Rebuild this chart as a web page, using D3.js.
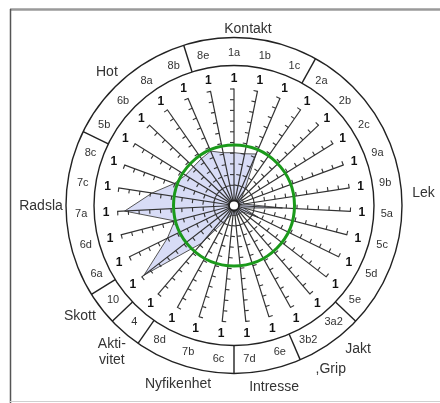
<!DOCTYPE html>
<html>
<head>
<meta charset="utf-8">
<script src="https://cdn.jsdelivr.net/npm/d3@7"></script>
<style>
  html, body { margin: 0; padding: 0; background: #fff; }
  svg { display: block; font-family: "Liberation Sans", Arial, sans-serif; will-change: transform; }
  text { -webkit-font-smoothing: antialiased; }
</style>
</head>
<body>
<svg id="chart" width="440" height="403"></svg>
<script>
// ---- data ----
const categories = ["1a","1b","1c","2a","2b","2c","9a","9b","5a","5c","5d","5e",
  "3a2","3b2","6e","7d","6c","7b","8d","4","10","6a","6d","7a","7c","8c","5b","6b","8a","8b","8e"];
const values = [0.40,0.40,0.43,0.08,0,0,0,0,0.36,0,0.16,0,
  0,0,0,0,0,0,0.05,0.37,0.97,0.60,0.48,0.93,0.68,0.50,0.44,0.43,0.44,0.46,0.41];
const scaleEndLabel = "1";
const tickValues = [0.1,0.2,0.3,0.4,0.5,0.6,0.7,0.8,0.9,1.0];
const groupStarts = ["2a","3a2","6e","6c","4","10","6a","5b","8e"];
const groupNames = ["Kontakt","Lek","Jakt",",Grip","Intresse","Nyfikenhet","Akti-|vitet","Skott","Radsla","Hot"];

// ---- layout ----
const W = 440, H = 403, cx = 234, cy = 205.5;
const groupLabelPos = [[4.5,178],[86,190],[139,189],[149.2,189],[167.5,185],[197.5,186],[220,190],[234.6,189],[270,193],[316.6,185]];

const svg = d3.select("#chart");
const n = categories.length;
const angle = d3.scaleLinear().domain([0, n]).range([0, 2 * Math.PI]);
const r = d3.scaleLinear().domain([0, 1]).range([10, 117]);
const pt = (a, rad) => [cx + rad * Math.sin(a), cy - rad * Math.cos(a)];

svg.append("rect").attr("width", W).attr("height", H).attr("fill", "#fff");

// frame
svg.append("line").attr("x1", 10).attr("x2", W).attr("y1", 9.5).attr("y2", 9.5)
  .attr("stroke", "#9a9a9a").attr("stroke-width", 2.5);
svg.append("line").attr("x1", 10.5).attr("x2", 10.5).attr("y1", 9).attr("y2", H)
  .attr("stroke", "#555").attr("stroke-width", 1.5);
svg.append("line").attr("x1", 10).attr("x2", W).attr("y1", 401.5).attr("y2", 401.5)
  .attr("stroke", "#d0d0d0").attr("stroke-width", 1);

// outer ring
const ringIn = 140, ringOut = 168;
[ringIn, ringOut].forEach(rr => svg.append("circle").attr("cx", cx).attr("cy", cy).attr("r", rr)
  .attr("fill", "none").attr("stroke", "#222").attr("stroke-width", 1.4));
groupStarts.forEach(c => {
  const a = angle(categories.indexOf(c) - 0.5);
  const p1 = pt(a, ringIn), p2 = pt(a, ringOut);
  svg.append("line").attr("x1", p1[0]).attr("y1", p1[1]).attr("x2", p2[0]).attr("y2", p2[1])
    .attr("stroke", "#222").attr("stroke-width", 1.4);
});
const labels = svg.append("g").attr("opacity", 0.999);
categories.forEach((c, i) => {
  const p = pt(angle(i), 153);
  labels.append("text").attr("x", p[0]).attr("y", p[1]).attr("dy", "0.35em")
    .attr("text-anchor", "middle").attr("font-size", 11).attr("fill", "#333").text(c);
});

// group labels
groupNames.forEach((g, i) => {
  const [deg, rad] = groupLabelPos[i];
  const p = pt(deg * Math.PI / 180, rad);
  const lines = g.split("|");
  const t = labels.append("text").attr("text-anchor", "middle").attr("font-size", 14).attr("fill", "#333");
  lines.forEach((ln, k) => {
    t.append("tspan").attr("x", p[0]).attr("y", p[1] + (k - (lines.length - 1) / 2) * 16)
      .attr("dy", "0.35em").text(ln);
  });
});

// polygon
const radial = d3.lineRadial().angle((d, i) => angle(i)).radius(d => r(d)).curve(d3.curveLinearClosed);
svg.append("path").attr("transform", `translate(${cx},${cy})`).attr("d", radial(values))
  .attr("fill", "#d8dcf6").attr("stroke", "#555").attr("stroke-width", 1);

// spokes with axes
const axisScale = d3.scaleLinear().domain([0, 1]).range([-r(0), -r(1)]);
const axis = d3.axisLeft(axisScale).tickValues(tickValues).tickSize(4).tickSizeOuter(0).tickFormat("");
const endLabels = svg.append("g").attr("opacity", 0.999);
categories.forEach((c, i) => {
  const deg = angle(i) * 180 / Math.PI;
  const g = svg.append("g").attr("transform", `translate(${cx},${cy}) rotate(${deg})`);
  g.append("line").attr("x1", 0).attr("y1", -5).attr("x2", 0).attr("y2", -r(1))
    .attr("stroke", "#333").attr("stroke-width", 1.2);
  const ax = g.append("g").call(axis);
  ax.select(".domain").remove();
  ax.selectAll(".tick line").attr("stroke", "#333").attr("stroke-width", 1.1);
  const p = pt(angle(i), 128);
  endLabels.append("text").attr("x", p[0]).attr("y", p[1]).attr("dy", "0.35em")
    .attr("text-anchor", "middle").attr("font-size", 12).attr("font-weight", "bold")
    .attr("fill", "#111").text(scaleEndLabel);
});

// center
svg.append("circle").attr("cx", cx).attr("cy", cy).attr("r", 5)
  .attr("fill", "#fff").attr("stroke", "#222").attr("stroke-width", 1.8);

// green circle
svg.append("circle").attr("cx", cx).attr("cy", cy).attr("r", 60.5)
  .attr("fill", "none").attr("stroke", "#1b9a1b").attr("stroke-width", 3);
</script>
</body>
</html>
